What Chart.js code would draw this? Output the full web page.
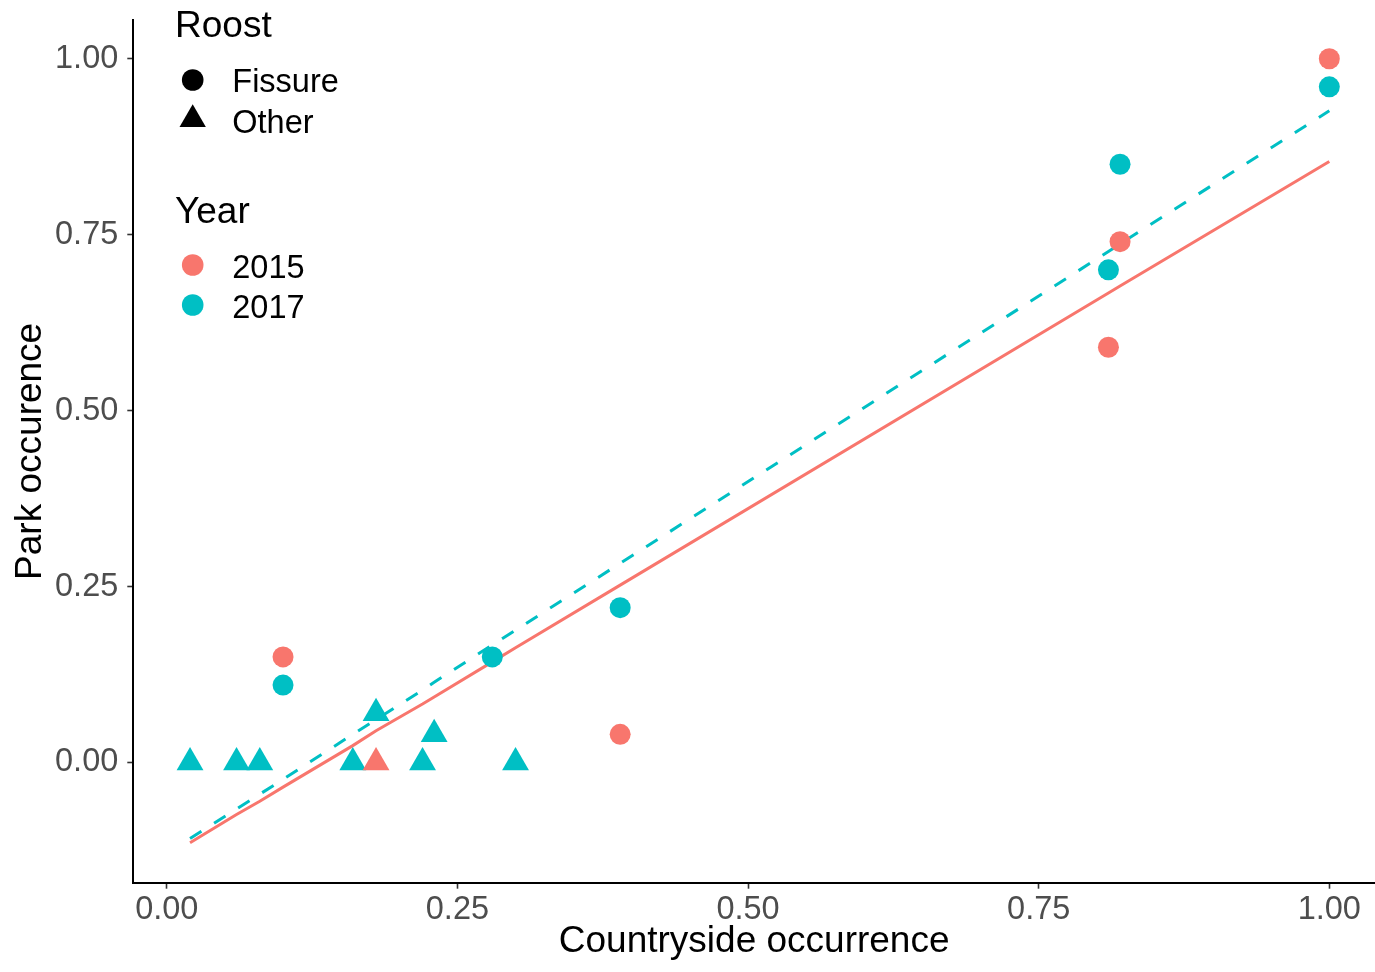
<!DOCTYPE html>
<html>
<head>
<meta charset="utf-8">
<title>Park vs countryside occurrence</title>
<script src="https://cdn.jsdelivr.net/npm/chart.js@4.4.1/dist/chart.umd.min.js"></script>
<style>
  html, body { margin: 0; padding: 0; background: #ffffff; overflow: hidden; }
  #wrap { width: 1375px; height: 972px; }
</style>
</head>
<body>
<div id="wrap"><canvas id="chart" width="1375" height="972"></canvas></div>
<script>
// Occurrence of each species in parks against the countryside, by survey year and roost type

const years = ['2015', '2017'];
const yearColors = ['#F8766D', '#00BFC4'];
const roosts = ['Fissure', 'Other'];
const roostStyles = ['circle', 'triangle'];

// 2015 survey
const x2015Fissure = [0.10, 0.39, 0.81, 0.82, 1.00];
const y2015Fissure = [0.15, 0.04, 0.59, 0.74, 1.00];
const x2015Other = [0.18];
const y2015Other = [0.00];

// 2017 survey
const x2017Fissure = [0.10, 0.28, 0.39, 0.81, 0.82, 1.00];
const y2017Fissure = [0.11, 0.15, 0.22, 0.70, 0.85, 0.96];
const x2017Other = [0.02, 0.06, 0.08, 0.16, 0.18, 0.22, 0.23, 0.30];
const y2017Other = [0.00, 0.00, 0.00, 0.00, 0.07, 0.00, 0.04, 0.00];

// fitted trend for each year, evaluated at the observed countryside values
const fitX    = [0.02, 0.06, 0.08, 0.10, 0.16, 0.18, 0.22, 0.23, 0.28, 0.30, 0.39, 0.81, 0.82, 1.00];
const fit2015 = [-0.114, -0.074, -0.055, -0.035, 0.024, 0.045, 0.083, 0.093, 0.143, 0.163, 0.252, 0.667, 0.677, 0.854];
const fit2017 = [-0.108, -0.066, -0.045, -0.024, 0.040, 0.061, 0.103, 0.114, 0.167, 0.188, 0.283, 0.726, 0.737, 0.926];

const xTicks = [0, 0.25, 0.50, 0.75, 1.00];
const yTicks = [0, 0.25, 0.50, 0.75, 1.00];

const xTitle = 'Countryside occurrence';
const yTitle = 'Park occurence';

const FONT = '"Liberation Sans", Arial, Helvetica, sans-serif';

const pts = (xs, ys) => xs.map((x, i) => ({ x: x, y: ys[i] }));

// two-part legend (shape for roost, colour for year) in the top-left of the panel
const groupedLegend = {
  id: 'groupedLegend',
  afterDraw(chart) {
    const ctx = chart.ctx;
    const keyX = 192.7, textX = 232.3;
    ctx.save();
    ctx.textAlign = 'left';
    ctx.textBaseline = 'alphabetic';
    ctx.fillStyle = '#000000';

    ctx.font = '37px ' + FONT;
    ctx.fillText('Roost', 175, 37.3);
    ctx.fillText('Year', 175, 222.7);

    const roostKeyY = [80, 119.5];
    const roostTextY = [92.3, 133.3];
    const roostRadius = [10.8, 15.2];
    ctx.font = '32.5px ' + FONT;
    roosts.forEach((name, i) => {
      ctx.fillStyle = '#000000';
      Chart.helpers.drawPoint(ctx, { pointStyle: roostStyles[i], radius: roostRadius[i], borderWidth: 0, rotation: 0 }, keyX, roostKeyY[i]);
      ctx.fillText(name, textX, roostTextY[i]);
    });

    const yearKeyY = [265, 305];
    const yearTextY = [278.3, 318.3];
    years.forEach((name, i) => {
      ctx.fillStyle = yearColors[i];
      Chart.helpers.drawPoint(ctx, { pointStyle: 'circle', radius: 10.8, borderWidth: 0, rotation: 0 }, keyX, yearKeyY[i]);
      ctx.fillStyle = '#000000';
      ctx.fillText(name, textX, yearTextY[i]);
    });
    ctx.restore();
  }
};

const pointDefaults = { pointBorderWidth: 0, showLine: false };

new Chart(document.getElementById('chart'), {
  type: 'scatter',
  data: {
    datasets: [
      Object.assign({ label: years[0] + ' ' + roosts[0], data: pts(x2015Fissure, y2015Fissure),
        pointStyle: roostStyles[0], pointRadius: 10.5, pointHoverRadius: 10.5,
        pointBackgroundColor: yearColors[0], backgroundColor: yearColors[0], borderColor: yearColors[0] }, pointDefaults),
      Object.assign({ label: years[0] + ' ' + roosts[1], data: pts(x2015Other, y2015Other),
        pointStyle: roostStyles[1], pointRadius: 15.5, pointHoverRadius: 15.5,
        pointBackgroundColor: yearColors[0], backgroundColor: yearColors[0], borderColor: yearColors[0] }, pointDefaults),
      Object.assign({ label: years[1] + ' ' + roosts[0], data: pts(x2017Fissure, y2017Fissure),
        pointStyle: roostStyles[0], pointRadius: 10.5, pointHoverRadius: 10.5,
        pointBackgroundColor: yearColors[1], backgroundColor: yearColors[1], borderColor: yearColors[1] }, pointDefaults),
      Object.assign({ label: years[1] + ' ' + roosts[1], data: pts(x2017Other, y2017Other),
        pointStyle: roostStyles[1], pointRadius: 15.5, pointHoverRadius: 15.5,
        pointBackgroundColor: yearColors[1], backgroundColor: yearColors[1], borderColor: yearColors[1] }, pointDefaults),
      { label: years[0] + ' fit', data: pts(fitX, fit2015), showLine: true, pointRadius: 0, pointHoverRadius: 0,
        borderColor: yearColors[0], borderWidth: 3, tension: 0, fill: false, borderCapStyle: 'butt' },
      { label: years[1] + ' fit', data: pts(fitX, fit2017), showLine: true, pointRadius: 0, pointHoverRadius: 0,
        borderColor: yearColors[1], borderWidth: 3, tension: 0, fill: false, borderDash: [13.5, 15], borderCapStyle: 'butt' }
    ]
  },
  options: {
    responsive: false,
    devicePixelRatio: 1,
    animation: false,
    events: [],
    layout: { autoPadding: false, padding: { left: 0, right: 0, top: 20, bottom: 0 } },
    plugins: { legend: { display: false }, tooltip: { enabled: false } },
    scales: {
      x: {
        type: 'linear',
        min: -0.0288,
        max: 1.0393,
        afterFit(scale) {
          scale.height = 89.3;
          scale.paddingLeft = 0; scale.paddingRight = 0;
          scale.paddingTop = 0; scale.paddingBottom = 0;
        },
        afterBuildTicks(scale) { scale.ticks = xTicks.map(v => ({ value: v })); },
        ticks: {
          callback: v => v.toFixed(2),
          color: '#4D4D4D',
          font: { family: FONT, size: 32.5 },
          padding: 2,
          maxRotation: 0,
          autoSkip: false
        },
        grid: { drawOnChartArea: false, drawTicks: true, tickLength: 6, tickColor: '#333333', tickWidth: 1.6 },
        border: { display: true, color: '#000000', width: 2 },
        title: { display: true, text: xTitle, color: '#000000', font: { family: FONT, size: 37 }, padding: { top: 0, bottom: 7.6 } }
      },
      y: {
        type: 'linear',
        min: -0.1708,
        max: 1.055,
        afterFit(scale) {
          scale.width = 133.3;
          scale.paddingLeft = 0; scale.paddingRight = 0;
          scale.paddingTop = 0; scale.paddingBottom = 0;
        },
        afterBuildTicks(scale) { scale.ticks = yTicks.map(v => ({ value: v })); },
        ticks: {
          callback: v => v.toFixed(2),
          color: '#4D4D4D',
          font: { family: FONT, size: 32.5 },
          padding: 9,
          autoSkip: false
        },
        grid: { drawOnChartArea: false, drawTicks: true, tickLength: 6, tickColor: '#333333', tickWidth: 1.6 },
        border: { display: true, color: '#000000', width: 2 },
        title: { display: true, text: yTitle, color: '#000000', font: { family: FONT, size: 37 }, padding: { top: 8.3, bottom: 0 } }
      }
    }
  },
  plugins: [groupedLegend]
});
</script>
</body>
</html>
